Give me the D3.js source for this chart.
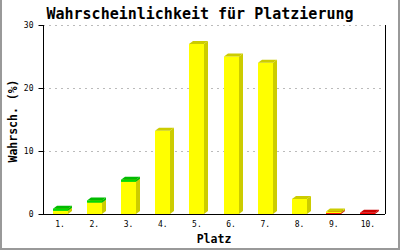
<!DOCTYPE html>
<html>
<head>
<meta charset="utf-8">
<script src="https://cdn.jsdelivr.net/npm/d3@7"></script>
<style>
  body { margin: 0; background: #fff; }
  svg { display: block; }
</style>
</head>
<body>
<svg id="chart" width="400" height="250"></svg>
<script>
// data
const places = ["1.", "2.", "3.", "4.", "5.", "6.", "7.", "8.", "9.", "10."];
const redPart = [0, 0, 0, 0, 0, 0, 0, 0, 0.15, 0.2];
const yellowPart = [0.5, 1.8, 5.1, 13.2, 27.0, 25.0, 24.0, 2.4, 0.25, 0];
const greenPart = [0.35, 0.35, 0.35, 0, 0, 0, 0, 0, 0, 0];
const yTicks = [0, 10, 20, 30];

const width = 400;
const height = 250;
const plotLeft = 43, plotRight = 385, plotTop = 25, plotBottom = 214;
const depthX = 4, depthY = 3;
const mono = "'DejaVu Sans Mono', monospace";

const colors = {
  red:    { front: "#ff0000", side: "#cc0000" },
  yellow: { front: "#ffff00", side: "#cccc00" },
  green:  { front: "#00dd00", side: "#00bb00" }
};

const svg = d3.select("svg#chart")
    .attr("viewBox", [0, 0, width, height]);

const x = d3.scaleBand()
    .domain(places)
    .range([plotLeft, plotRight])
    .paddingInner(0.56)
    .paddingOuter(0.28);

const y = d3.scaleLinear()
    .domain([0, 30])
    .range([plotBottom, plotTop]);

// gray frame round the picture
svg.append("path")
    .attr("d", `M1,0 V249 H399 V0`)
    .attr("fill", "none")
    .attr("stroke", "#999")
    .attr("stroke-width", 2);

// dashed grid
svg.append("g")
    .selectAll("line")
    .data(yTicks.filter(d => d > 0))
    .join("line")
    .attr("x1", plotLeft)
    .attr("x2", plotRight)
    .attr("y1", d => Math.round(y(d)) + 0.5)
    .attr("y2", d => Math.round(y(d)) + 0.5)
    .attr("stroke", "#bbb")
    .attr("stroke-dasharray", "2,4");

// stacked segments: red at the bottom, yellow, then green on top
const series = [
  { key: "red", values: redPart },
  { key: "yellow", values: yellowPart },
  { key: "green", values: greenPart }
];

const segments = [];
places.forEach((p, i) => {
  let base = 0;
  series.forEach(s => {
    const v = s.values[i];
    if (v > 0) segments.push({ place: p, key: s.key, y0: base, y1: base + v });
    base += v;
  });
});

const bars = svg.append("g")
    .selectAll("g")
    .data(segments)
    .join("g");

bars.each(function(d) {
  const g = d3.select(this);
  const l = Math.round(x(d.place));
  const r = l + Math.round(x.bandwidth());
  const b = y(d.y0);
  const t = y(d.y1);
  const c = colors[d.key];
  g.append("path")
      .attr("d", `M${r},${b} L${r + depthX},${b - depthY} L${r + depthX},${t - depthY} L${r},${t} Z`)
      .attr("fill", c.side);
  g.append("rect")
      .attr("x", l)
      .attr("y", t)
      .attr("width", r - l)
      .attr("height", b - t)
      .attr("fill", c.front);
  g.append("path")
      .attr("d", `M${l},${t} L${l + depthX},${t - depthY} L${r + depthX},${t - depthY} L${r},${t} Z`)
      .attr("fill", c.side);
});

// axes
const yAxis = svg.append("g")
    .attr("transform", `translate(${plotLeft + 0.5},0)`)
    .call(d3.axisLeft(y).tickValues(yTicks).tickSize(5).tickPadding(5).tickFormat(d3.format("d")));
yAxis.select(".domain").attr("d", `M0,${plotTop} V${plotBottom}`).attr("stroke", "#000");
yAxis.selectAll(".tick line").attr("stroke", "#000");
yAxis.selectAll(".tick text").attr("font-family", mono).attr("font-size", 8).attr("fill", "#000");

const xAxis = svg.append("g")
    .attr("transform", `translate(0,${plotBottom + 0.5})`)
    .call(d3.axisBottom(x).tickSize(0).tickPadding(7));
xAxis.select(".domain").attr("d", `M${plotLeft},0 H${plotRight}`).attr("stroke", "#000");
xAxis.selectAll(".tick text").attr("font-family", mono).attr("font-size", 8).attr("fill", "#000");

// right border of the plot
svg.append("line")
    .attr("x1", plotRight + 0.5).attr("x2", plotRight + 0.5)
    .attr("y1", plotTop).attr("y2", plotBottom)
    .attr("stroke", "#000");

// texts
svg.append("text")
    .attr("x", 200)
    .attr("y", 19)
    .attr("text-anchor", "middle")
    .attr("font-family", mono)
    .attr("font-weight", "bold")
    .attr("font-size", 15)
    .text("Wahrscheinlichkeit für Platzierung");

svg.append("text")
    .attr("transform", `translate(17,121) rotate(-90)`)
    .attr("text-anchor", "middle")
    .attr("font-family", mono)
    .attr("font-weight", "bold")
    .attr("font-size", 11.5)
    .text("Wahrsch. (%)");

svg.append("text")
    .attr("x", (plotLeft + plotRight) / 2)
    .attr("y", 243)
    .attr("text-anchor", "middle")
    .attr("font-family", mono)
    .attr("font-weight", "bold")
    .attr("font-size", 11.5)
    .text("Platz");
</script>
</body>
</html>
